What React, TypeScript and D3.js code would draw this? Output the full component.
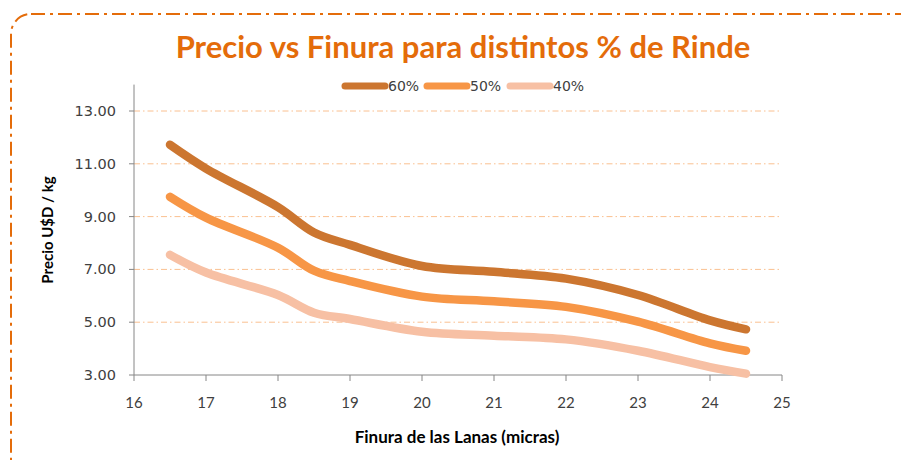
import React from 'react';
import * as d3 from 'd3';

// micras
const finura = [16.5, 17, 18, 18.5, 19, 20, 21, 22, 23, 24, 24.5];
const rinde60 = [11.72, 10.82, 9.36, 8.4, 7.93, 7.13, 6.91, 6.65, 6.03, 5.07, 4.73];
const rinde50 = [9.75, 8.96, 7.82, 6.95, 6.56, 5.97, 5.79, 5.58, 5.02, 4.2, 3.92];
const rinde40 = [7.55, 6.88, 6.03, 5.36, 5.12, 4.64, 4.49, 4.35, 3.92, 3.3, 3.05];
const seriesNames = ['60%', '50%', '40%'];
const seriesColors = ['#cc7630', '#f79646', '#f7c0a4'];
const xTicks = [16, 17, 18, 19, 20, 21, 22, 23, 24, 25];
const yTicks = [3, 5, 7, 9, 11, 13];

const W = 901, H = 460;

export default function App() {
  const x = d3.scaleLinear().domain([16, 25]).range([134, 782]);
  const y = d3.scaleLinear().domain([3, 14]).range([375, 84.6]);
  const line = d3.line<number>()
    .x((d, i) => x(finura[i]))
    .y(d => y(d))
    .curve(d3.curveCatmullRom.alpha(0.5));
  const series = [rinde60, rinde50, rinde40];
  const legendX = [345, 427, 510];
  const gridDash = '6,3,1.5,3';

  return (
    <svg width={W} height={H} style={{ position: 'absolute', left: 0, top: 0 }}>
      <rect x={11} y={14} width={920} height={470} rx={20} ry={20} fill="white"
        stroke="#e46c0a" strokeWidth={2} strokeDasharray="14,5,3,5" />
      <text x={463} y={58} textAnchor="middle" fill="#e46c0a"
        style={{ font: 'bold 31px Lato' }}>Precio vs Finura para distintos % de Rinde</text>

      {seriesNames.map((n, i) => (
        <g key={n}>
          <line x1={legendX[i]} x2={legendX[i] + 40} y1={86} y2={86}
            stroke={seriesColors[i]} strokeWidth={7} strokeLinecap="round" />
          <text x={legendX[i] + 43} y={91} fill="#404040"
            style={{ font: '14px DejaVu Sans' }}>{n}</text>
        </g>
      ))}

      {yTicks.filter(t => t > 3).map(t => (
        <line key={t} x1={x(16)} x2={x(25)} y1={y(t)} y2={y(t)}
          stroke="#fac090" strokeWidth={1} strokeDasharray={gridDash} />
      ))}

      {/* ejes */}
      <line x1={x(16)} x2={x(16)} y1={y(14)} y2={y(3)} stroke="#868686" />
      <line x1={x(16)} x2={x(25)} y1={y(3)} y2={y(3)} stroke="#868686" />
      {yTicks.map(t => (
        <g key={t}>
          <line x1={x(16) - 5} x2={x(16)} y1={y(t)} y2={y(t)} stroke="#868686" />
          <text x={x(16) - 18} y={y(t) + 5} textAnchor="end" fill="#404040"
            style={{ font: '14.5px DejaVu Sans' }}>{t.toFixed(2)}</text>
        </g>
      ))}
      {xTicks.map(t => (
        <g key={t}>
          <line x1={x(t)} x2={x(t)} y1={y(3)} y2={y(3) + 6} stroke="#868686" />
          <text x={x(t)} y={408} textAnchor="middle" fill="#404040"
            style={{ font: '15px Lato' }}>{t}</text>
        </g>
      ))}

      {series.map((s, i) => (
        <path key={i} d={line(s) || ''} fill="none" stroke={seriesColors[i]}
          strokeWidth={8.5} strokeLinecap="round" strokeLinejoin="round" />
      ))}

      <text x={457} y={443} textAnchor="middle" fill="#000"
        style={{ font: 'bold 17px Lato' }}>Finura de las Lanas (micras)</text>
      <text transform="translate(53,230) rotate(-90)" textAnchor="middle" fill="#000"
        style={{ font: 'bold 15px Lato' }}>Precio U$D / kg</text>
    </svg>
  );
}
